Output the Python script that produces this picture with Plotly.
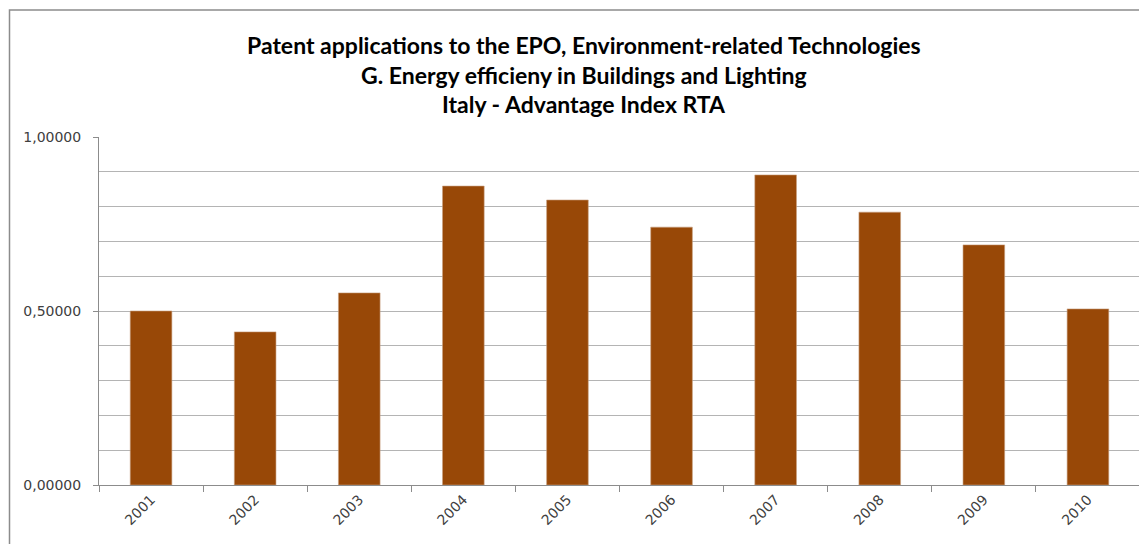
import plotly.graph_objects as go

years = ["2001", "2002", "2003", "2004", "2005", "2006", "2007", "2008", "2009", "2010"]
rta = [0.500, 0.440, 0.552, 0.859, 0.819, 0.741, 0.891, 0.784, 0.690, 0.506]
title_lines = [
    "Patent applications to the EPO, Environment-related Technologies",
    "G. Energy efficieny in Buildings and Lighting",
    "Italy - Advantage Index RTA",
]
y_ticks = [0.0, 0.5, 1.0]

fig = go.Figure(go.Bar(
    x=years, y=rta,
    marker=dict(color="#984807", line=dict(color="#c8a080", width=0.6)),
))

# page body has an 8px margin; compensate so plot area sits at x 99-1140, y 137-485
fig.update_layout(
    width=1139, height=536,
    margin=dict(l=91, r=7, t=129, b=59),
    paper_bgcolor="white", plot_bgcolor="white",
    separators=",.",
    bargap=0.6,
    showlegend=False,
)

fig.update_xaxes(
    type="category",
    showline=True, linecolor="#8c8c8c", linewidth=1,
    ticks="outside", tickson="boundaries", ticklen=6, tickcolor="#8c8c8c",
    tickangle=-45,
    tickfont=dict(family="DejaVu Sans", size=14, color="#404040"),
    showgrid=False,
)
fig.update_yaxes(
    range=[0, 1.0],
    tickvals=y_ticks, tickformat=".5f",
    showline=True, linecolor="#8c8c8c", linewidth=1,
    ticks="outside", ticklen=5, tickcolor="#8c8c8c",
    ticklabelstandoff=9,
    tickfont=dict(family="DejaVu Sans", size=14, color="#404040"),
    showgrid=True, gridcolor="#b4b4b4", gridwidth=1,
    minor=dict(dtick=0.1, showgrid=True, gridcolor="#b4b4b4", gridwidth=1, ticks=""),
    zeroline=False,
)

ys = [1.2644, 1.178, 1.0948]
for txt, yy in zip(title_lines, ys):
    fig.add_annotation(
        text="<b>" + txt + "</b>", x=0.4659, y=yy, xref="paper", yref="paper",
        xanchor="center", yanchor="middle", showarrow=False,
        font=dict(family="Lato", size=23, color="#000000"),
    )

# outer chart frame
fig.add_shape(type="rect", xref="paper", yref="paper",
              x0=(9.5 - 99) / 1041, x1=1.2, y0=-0.5, y1=(485 - 10) / 348,
              line=dict(color="#8c8c8c", width=1.5), layer="below")

fig.write_html("out.html")
